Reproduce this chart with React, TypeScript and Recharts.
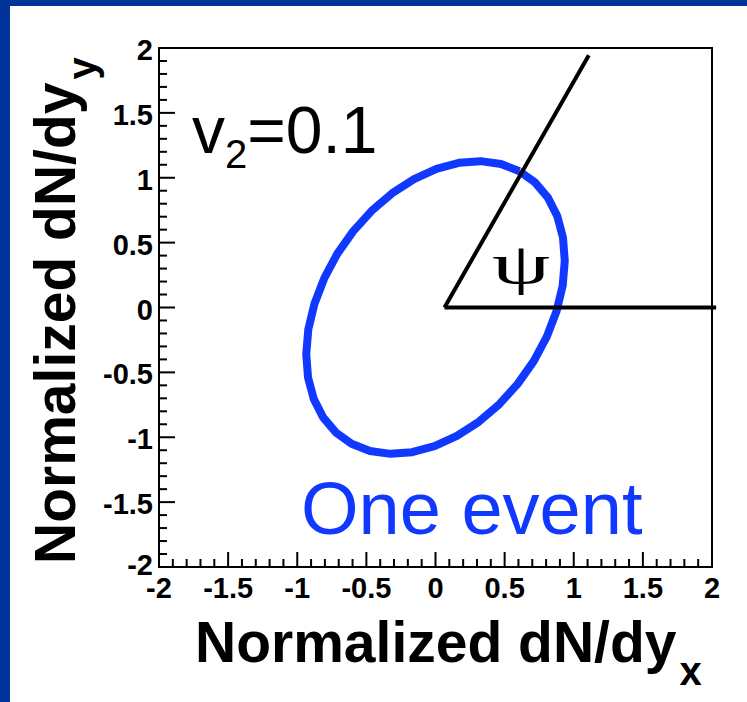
import { LineChart, Line, XAxis, YAxis, ReferenceLine, ReferenceArea } from 'recharts'

// one event: normalized dN/dy in the transverse plane
const ellipseX = [
  0.607, 0.474, 0.326, 0.169, 0.007, -0.155, -0.313, -0.462, -0.596, -0.712, -0.806,
  -0.876, -0.92, -0.935, -0.922, -0.881, -0.813, -0.721, -0.607, -0.474, -0.326, -0.169,
  -0.007, 0.155, 0.313, 0.462, 0.596, 0.712, 0.806, 0.876, 0.92, 0.935, 0.922, 0.881,
  0.813, 0.721, 0.607,
]
const ellipseY = [
  1.05, 1.106, 1.128, 1.115, 1.069, 0.99, 0.881, 0.745, 0.587, 0.411, 0.222, 0.027,
  -0.169, -0.36, -0.54, -0.704, -0.847, -0.963, -1.05, -1.106, -1.128, -1.115, -1.069,
  -0.99, -0.881, -0.745, -0.587, -0.411, -0.222, -0.027, 0.169, 0.36, 0.54, 0.704, 0.847,
  0.963, 1.05,
]

const majorTicks = [-2, -1.5, -1, -0.5, 0, 0.5, 1, 1.5, 2]
const minorStep = 0.1

// reaction plane angle psi drawn from here
const psiOrigin = { x: 0.065, y: 0 }
const psiArmEnd = { x: 1.109, y: 1.945 }
const flatArmEnd = { x: 2.03, y: 0 }

const data = ellipseX.map((x, i) => ({ x, y: ellipseY[i] }))

const allTicks: number[] = []
for (let k = Math.round(majorTicks[0] / minorStep); k <= Math.round(majorTicks[majorTicks.length - 1] / minorStep); k++) {
  allTicks.push(k / 10)
}
const isMajor = (v: number) => majorTicks.some((m) => Math.abs(m - v) < 1e-6)

const FONT = '"Liberation Sans", Arial, Helvetica, sans-serif'
const BLUE = '#1038ff'
const NAVY = '#003399'

const XTick = (props: any) => {
  const { x, y, payload } = props
  const major = isMajor(payload.value)
  return (
    <g>
      <line x1={x} y1={y} x2={x} y2={y - (major ? 15 : 8)} stroke="#000" strokeWidth={2} />
      {major && (
        <text x={x} y={y + 31} textAnchor="middle" fontFamily={FONT} fontWeight="bold" fontSize={29} fill="#000">
          {String(payload.value)}
        </text>
      )}
    </g>
  )
}

const YTick = (props: any) => {
  const { x, y, payload } = props
  const major = isMajor(payload.value)
  // the bottom label sits a bit higher so it clears the x-axis "-2"
  const dy = payload.value <= -2 ? 8 : 12
  return (
    <g>
      <line x1={x} y1={y} x2={x + (major ? 16 : 8)} y2={y} stroke="#000" strokeWidth={2} />
      {major && (
        <text x={x - 6} y={y + dy} textAnchor="end" fontFamily={FONT} fontWeight="bold" fontSize={29} fill="#000">
          {String(payload.value)}
        </text>
      )}
    </g>
  )
}

const XTitle = () => (
  <text x={195} y={662} fontFamily={FONT} fontWeight="bold" fontSize={57} fill="#000">
    Normalized dN/dy
    <tspan dx={3} dy={23} fontSize={40}>x</tspan>
  </text>
)

const YTitle = () => (
  <text transform="translate(75,564) rotate(-90)" x={0} y={0} fontFamily={FONT} fontWeight="bold" fontSize={57} fill="#000">
    Normalized dN/dy
    <tspan dx={3} dy={21} fontSize={40}>y</tspan>
  </text>
)

export default function App() {
  return (
    <div style={{ position: 'absolute', left: 0, top: 0, width: 747, height: 702, background: '#fff', overflow: 'hidden' }}>
      <LineChart width={747} height={702} data={data} margin={{ top: 48, right: 35, left: 0, bottom: 0 }}>
        <ReferenceArea x1={-2} x2={2} y1={-2} y2={2} fill="none" stroke="#000" strokeWidth={2} />
        <XAxis
          type="number"
          dataKey="x"
          domain={[-2, 2]}
          ticks={allTicks}
          interval={0}
          height={135}
          tickSize={0}
          tickMargin={0}
          tickLine={false}
          axisLine={{ stroke: '#000', strokeWidth: 2 }}
          tick={<XTick />}
          allowDataOverflow
          label={<XTitle />}
        />
        <YAxis
          type="number"
          domain={[-2, 2]}
          ticks={allTicks}
          interval={0}
          width={159}
          tickSize={0}
          tickMargin={0}
          tickLine={false}
          axisLine={{ stroke: '#000', strokeWidth: 2 }}
          tick={<YTick />}
          allowDataOverflow
          label={<YTitle />}
        />
        <Line
          dataKey="y"
          type="linear"
          stroke={BLUE}
          strokeWidth={8}
          strokeLinejoin="round"
          dot={false}
          activeDot={false}
          isAnimationActive={false}
        />
        <ReferenceLine segment={[psiOrigin, psiArmEnd]} stroke="#000" strokeWidth={4} ifOverflow="visible" />
        <ReferenceLine segment={[psiOrigin, flatArmEnd]} stroke="#000" strokeWidth={4} ifOverflow="visible" />
        <text x={192} y={153} fontFamily={FONT} fontSize={66} fill="#000">
          v<tspan dy={15} fontSize={40}>2</tspan>
          <tspan dy={-15}>=0.1</tspan>
        </text>
        <text
          transform="translate(492,283) scale(1.6,1)"
          x={0}
          y={0}
          fontFamily='"Liberation Serif", "Times New Roman", serif'
          fontSize={58}
          fill="#000"
        >
          ψ
        </text>
        <text x={301} y={534} fontFamily={FONT} fontSize={74} fill={BLUE}>
          One event
        </text>
      </LineChart>
      <div style={{ position: 'absolute', left: 0, top: 0, width: 747, height: 6, background: NAVY }} />
      <div style={{ position: 'absolute', left: 0, top: 0, width: 10, height: 702, background: NAVY }} />
    </div>
  )
}
